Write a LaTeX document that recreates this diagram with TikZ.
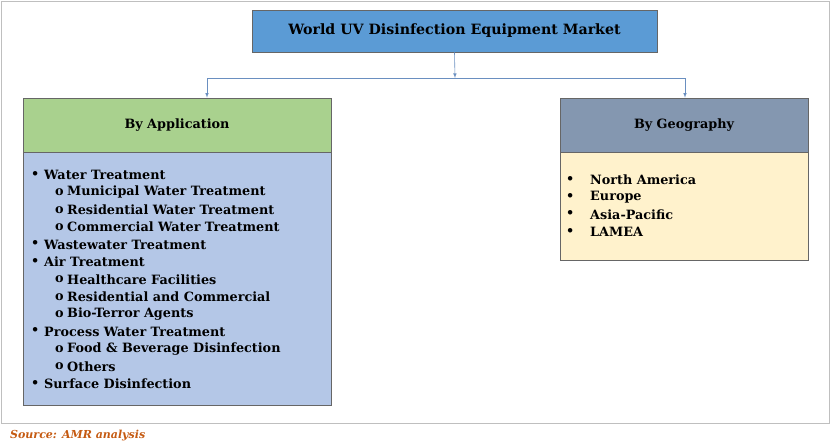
\documentclass[tikz,border=0pt]{standalone}
\usepackage{fontspec}
\setmainfont{DejaVu Serif}
\usetikzlibrary{positioning}
\definecolor{titleblue}{HTML}{5B9BD5}
\definecolor{appgreen}{HTML}{A9D18E}
\definecolor{appbody}{HTML}{B4C7E7}
\definecolor{geohead}{HTML}{8497B0}
\definecolor{geobody}{HTML}{FFF2CC}
\definecolor{srcbrown}{HTML}{C55A11}
\definecolor{linkblue}{HTML}{6A8FC0}
\tikzset{
  box/.style={draw=black!60,line width=0.6pt},
  item/.style={anchor=west,inner sep=0pt,font=\bfseries\fontsize{12.8}{14}\selectfont},
  link/.style={draw=linkblue,line width=0.6pt},
}
\begin{document}
\begin{tikzpicture}[x=1pt,y=-1pt]
        \useasboundingbox (0,0) rectangle (831,446);
        % Frame
        \draw[black!25,line width=0.6pt] (1.5,1.5) rectangle (829.5,423);

        % Title
        \node[box,fill=titleblue,minimum width=405pt,minimum height=42pt,font=\bfseries\fontsize{14.2}{16}\selectfont] (title) at (454.5,31) {World UV Disinfection Equipment Market};

        % Headers and bodies
        \node[box,fill=appgreen,minimum width=308pt,minimum height=54pt,font=\bfseries\fontsize{12.8}{14}\selectfont] (apphead) at (177,125) {By Application};
        \node[box,fill=appbody,minimum width=308pt,minimum height=253pt,below=0pt of apphead,inner sep=0pt] (appbody) {};
        \node[box,fill=geohead,minimum width=248pt,minimum height=54pt,font=\bfseries\fontsize{12.8}{14}\selectfont] (geohead) at (684,125) {By Geography};
        \node[box,fill=geobody,minimum width=248pt,minimum height=108pt,below=0pt of geohead,inner sep=0pt] (geobody) {};

        % Connectors
        \coordinate (split) at (455,78);
        \draw[link,-latex] (title.south) -- (split);
        \draw[link,-latex] (split) -| (apphead.north -| 207,0);
        \draw[link,-latex] (split) -| (geohead.north -| 685,0);

        % Application list
        \foreach \lvl/\txt [count=\i] in {0/Water Treatment,1/Municipal Water Treatment,1/Residential Water Treatment,1/Commercial Water Treatment,0/Wastewater Treatment,0/Air Treatment,1/Healthcare Facilities,1/Residential and Commercial,1/Bio-Terror Agents,0/Process Water Treatment,1/Food \& Beverage Disinfection,1/Others,0/Surface Disinfection}{
          \pgfmathsetmacro{\yy}{157.5+17.4*\i}
          \ifnum\lvl=0
            \node[item] (appb\i) at (31,\yy) {\textbullet};
            \node[item] (app\i) at (44,\yy) {\txt};
          \else
            \node[item] (appb\i) at (55,\yy) {o};
            \node[item] (app\i) at (67,\yy) {\txt};
          \fi
        }

        % Geography list
        \foreach \txt [count=\i] in {North America,Europe,Asia-Pacific,LAMEA}{
          \pgfmathsetmacro{\yy}{162.5+17.3*\i}
          \node[item] (geob\i) at (566,\yy) {\textbullet};
          \node[item] (geo\i) at (590,\yy) {\txt};
        }

        % Source
        \node[anchor=west,inner sep=0pt,text=srcbrown,font=\bfseries\itshape\fontsize{11}{13}\selectfont] (source) at (10,436) {Source: AMR analysis};
\end{tikzpicture}
\end{document}
